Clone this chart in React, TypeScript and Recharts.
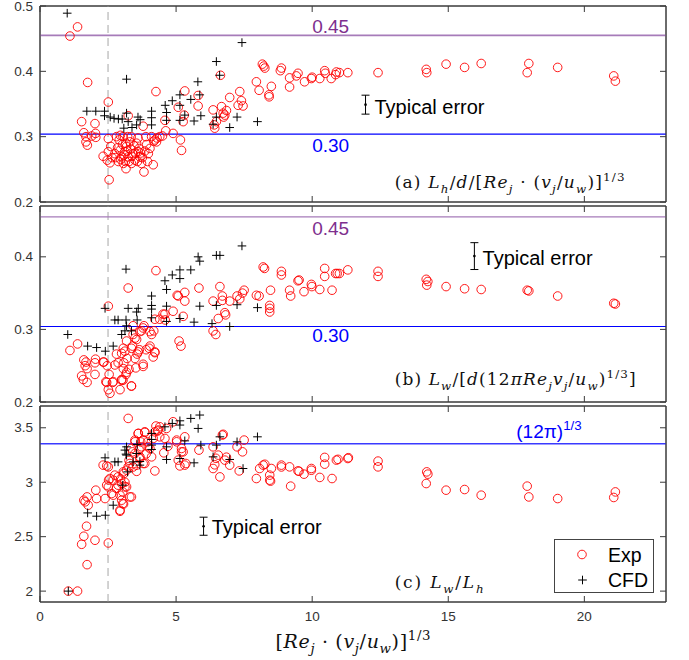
import React from 'react';
import { ScatterChart, Scatter, XAxis, YAxis, ReferenceLine, ErrorBar, Legend } from 'recharts';

// ---------- data ----------
const xTicks = [0, 5, 10, 15, 20];
const xDomain: [number, number] = [0, 23];
const aTicks = [0.2, 0.3, 0.4, 0.5];
const aDomain: [number, number] = [0.2, 0.5];
const bTicks = [0.2, 0.3, 0.4];
const bDomain: [number, number] = [0.2, 0.47];
const cTicks = [2, 2.5, 3, 3.5];
const cDomain: [number, number] = [1.9, 3.7];

const onsetX = 2.5;
const lineHigh = 0.455;
const lineLow = 0.304;
const lineC = 3.353;
const legendLabels = ['Exp', 'CFD'];

const expA: [number, number][] = [
  [1.10, 0.454], [1.38, 0.468], [1.75, 0.383], [1.53, 0.323], [1.61, 0.306], [1.69, 0.300], [1.69, 0.292], [1.74, 0.287],
  [1.90, 0.301], [2.02, 0.320], [2.04, 0.305], [2.05, 0.299], [2.51, 0.353], [2.51, 0.297], [2.32, 0.270], [2.51, 0.277],
  [2.47, 0.264], [2.57, 0.260], [2.54, 0.234], [2.75, 0.274], [2.81, 0.300], [2.91, 0.295], [2.94, 0.279], [3.00, 0.269],
  [3.06, 0.259], [3.12, 0.277], [3.16, 0.251], [3.18, 0.285], [3.24, 0.269], [3.24, 0.332], [3.30, 0.292], [3.36, 0.259],
  [3.42, 0.274], [3.49, 0.264], [3.55, 0.290], [3.61, 0.277], [3.67, 0.269], [3.73, 0.259], [3.79, 0.316], [3.82, 0.246],
  [3.89, 0.300], [3.98, 0.274], [4.04, 0.282], [4.10, 0.300], [4.16, 0.257], [4.22, 0.295], [4.26, 0.369], [4.28, 0.292],
  [4.40, 0.300], [4.59, 0.325], [4.62, 0.309], [4.89, 0.305], [5.08, 0.345], [5.16, 0.295], [5.20, 0.279], [5.30, 0.333],
  [5.32, 0.370], [5.26, 0.323], [2.85, 0.283], [2.97, 0.265], [3.03, 0.288], [3.09, 0.272], [3.14, 0.262], [3.20, 0.278],
  [3.27, 0.262], [3.33, 0.281], [3.38, 0.270], [3.45, 0.286], [3.50, 0.275], [3.58, 0.262], [3.64, 0.282], [3.70, 0.275],
  [3.76, 0.268], [3.85, 0.278], [3.92, 0.288], [2.88, 0.262], [2.78, 0.268], [3.05, 0.300], [3.35, 0.300], [3.60, 0.298],
  [3.22, 0.300], [2.65, 0.268], [2.60, 0.285], [3.95, 0.262], [4.18, 0.293], [4.30, 0.298], [4.50, 0.301], [3.15, 0.290],
  [2.95, 0.302], [5.81, 0.363], [5.81, 0.347], [6.36, 0.341], [6.42, 0.313], [6.48, 0.323], [6.67, 0.346], [6.73, 0.336],
  [6.79, 0.333], [6.85, 0.340], [6.63, 0.394], [6.97, 0.360], [7.34, 0.369], [7.40, 0.355], [7.46, 0.347], [7.28, 0.348],
  [6.40, 0.318], [6.75, 0.330], [7.95, 0.384], [8.05, 0.371], [8.17, 0.411], [8.22, 0.408], [8.26, 0.405], [8.41, 0.364],
  [8.42, 0.361], [8.50, 0.377], [8.83, 0.401], [8.87, 0.405], [9.17, 0.390], [9.17, 0.376], [9.42, 0.393], [9.48, 0.397],
  [9.72, 0.384], [9.97, 0.389], [10.00, 0.391], [10.28, 0.389], [10.46, 0.401], [10.48, 0.397], [10.70, 0.389], [10.86, 0.395],
  [10.89, 0.399], [11.00, 0.398], [11.31, 0.398], [12.42, 0.398], [14.19, 0.403], [14.21, 0.398], [14.92, 0.411], [15.60, 0.406],
  [16.21, 0.412], [17.90, 0.398], [17.96, 0.412], [19.02, 0.406], [21.08, 0.393], [21.14, 0.385],
];

const cfdA: [number, number][] = [
  [1.00, 0.489], [1.72, 0.339], [2.05, 0.339], [2.37, 0.339], [2.37, 0.332], [2.58, 0.330], [2.72, 0.328], [2.88, 0.327],
  [3.02, 0.327], [3.18, 0.336], [3.18, 0.388], [3.24, 0.323], [3.08, 0.313], [3.38, 0.314], [3.55, 0.318], [3.60, 0.330],
  [3.68, 0.326], [4.10, 0.339], [4.10, 0.329], [4.10, 0.318], [4.60, 0.348], [4.65, 0.337], [4.65, 0.325], [4.86, 0.355],
  [5.14, 0.364], [5.14, 0.348], [5.14, 0.325], [5.32, 0.333], [5.54, 0.357], [5.66, 0.324], [5.80, 0.384], [5.87, 0.364],
  [5.91, 0.332], [6.36, 0.319], [6.48, 0.330], [6.48, 0.415], [6.60, 0.394], [6.97, 0.314], [7.24, 0.330], [7.42, 0.444],
  [7.99, 0.323],
];

const expB: [number, number][] = [
  [1.10, 0.271], [1.38, 0.280], [1.61, 0.258], [1.69, 0.255], [1.73, 0.246], [1.66, 0.250], [1.53, 0.236], [1.59, 0.231],
  [1.73, 0.227], [2.02, 0.254], [2.04, 0.259], [2.02, 0.238], [2.35, 0.255], [2.51, 0.332], [2.47, 0.250], [2.42, 0.228],
  [2.54, 0.238], [2.51, 0.217], [2.57, 0.212], [2.69, 0.228], [2.81, 0.266], [2.87, 0.254], [2.94, 0.217], [3.00, 0.231],
  [3.05, 0.230], [3.08, 0.254], [3.12, 0.270], [3.16, 0.238], [3.20, 0.260], [3.24, 0.357], [3.27, 0.245], [3.36, 0.222],
  [3.40, 0.277], [3.42, 0.305], [3.49, 0.288], [3.52, 0.247], [3.57, 0.266], [3.65, 0.272], [3.73, 0.298], [3.79, 0.252],
  [3.82, 0.305], [3.90, 0.272], [4.04, 0.277], [4.10, 0.293], [4.16, 0.262], [4.18, 0.298], [4.22, 0.314], [4.26, 0.381],
  [4.22, 0.268], [4.40, 0.314], [4.52, 0.321], [4.60, 0.313], [4.89, 0.325], [5.08, 0.346], [5.11, 0.284], [5.18, 0.277],
  [5.26, 0.318], [5.32, 0.339], [5.32, 0.351], [5.84, 0.357], [6.36, 0.339], [6.36, 0.298], [6.46, 0.293], [6.55, 0.315],
  [6.61, 0.359], [6.70, 0.346], [6.70, 0.340], [6.79, 0.323], [6.82, 0.320], [6.97, 0.339], [7.24, 0.346], [7.34, 0.342],
  [7.44, 0.350], [7.50, 0.354], [7.95, 0.347], [8.05, 0.346], [8.20, 0.386], [8.25, 0.384], [8.47, 0.354], [8.44, 0.333],
  [8.44, 0.329], [8.44, 0.324], [8.87, 0.380], [8.87, 0.375], [9.17, 0.354], [9.21, 0.346], [9.48, 0.367], [9.52, 0.368],
  [9.70, 0.352], [9.97, 0.362], [9.99, 0.359], [10.28, 0.355], [10.46, 0.384], [10.46, 0.373], [10.73, 0.354], [10.86, 0.377],
  [10.92, 0.377], [11.00, 0.377], [11.31, 0.382], [12.42, 0.380], [12.42, 0.373], [14.19, 0.369], [14.21, 0.361], [14.25, 0.366],
  [14.92, 0.359], [15.60, 0.356], [16.21, 0.355], [17.90, 0.354], [17.96, 0.353], [19.02, 0.346], [21.08, 0.336], [21.14, 0.335],
  [3.00, 0.267], [3.06, 0.274], [3.18, 0.284], [3.36, 0.274], [3.49, 0.260], [3.61, 0.269], [3.79, 0.249], [4.01, 0.274],
  [4.22, 0.269], [3.06, 0.246], [3.18, 0.241], [3.00, 0.230], [3.36, 0.222], [3.67, 0.297], [3.79, 0.302], [3.42, 0.293],
  [3.55, 0.286], [4.04, 0.297], [4.59, 0.321], [5.04, 0.347], [2.75, 0.251], [2.67, 0.227], [2.45, 0.227], [2.32, 0.255],
];

const cfdB: [number, number][] = [
  [1.02, 0.293], [1.75, 0.277], [2.08, 0.275], [2.40, 0.270], [2.69, 0.277], [2.39, 0.329], [3.16, 0.383], [2.75, 0.313],
  [2.87, 0.313], [3.16, 0.313], [3.24, 0.329], [3.55, 0.324], [3.61, 0.329], [3.57, 0.313], [3.00, 0.293], [3.12, 0.298],
  [3.36, 0.298], [3.18, 0.305], [4.10, 0.346], [4.10, 0.333], [4.10, 0.328], [4.10, 0.316], [4.59, 0.367], [4.65, 0.355],
  [4.65, 0.332], [4.65, 0.311], [4.86, 0.375], [5.14, 0.382], [5.14, 0.370], [5.14, 0.315], [5.54, 0.382], [5.81, 0.400],
  [5.87, 0.394], [5.66, 0.310], [5.87, 0.332], [6.48, 0.402], [6.61, 0.402], [6.32, 0.308], [6.48, 0.333], [6.97, 0.304],
  [7.24, 0.334], [7.42, 0.415], [7.99, 0.330],
];

const expC: [number, number][] = [
  [1.04, 2.0], [1.38, 2.0], [3.24, 3.586], [1.53, 2.430], [1.61, 2.504], [1.71, 2.596], [1.73, 2.243], [1.61, 2.835],
  [1.66, 2.820], [1.73, 2.865], [1.77, 2.789], [2.02, 2.467], [2.05, 2.927], [2.08, 2.850], [2.51, 2.442], [2.32, 3.157],
  [2.45, 2.973], [2.57, 3.034], [2.52, 3.020], [2.51, 3.141], [2.69, 2.881], [2.75, 3.065], [2.87, 2.973], [2.94, 2.743],
  [2.96, 3.030], [3.00, 2.835], [3.04, 2.911], [3.07, 2.800], [3.08, 3.080], [3.12, 3.000], [3.18, 2.957], [3.24, 3.141],
  [3.27, 3.200], [3.36, 2.865], [3.40, 3.279], [3.42, 3.140], [3.49, 3.371], [3.55, 3.100], [3.61, 3.448], [3.64, 3.300],
  [3.67, 3.233], [3.70, 3.370], [3.79, 3.172], [3.85, 3.463], [3.90, 3.260], [3.95, 3.370], [4.04, 3.310], [4.10, 3.233],
  [4.16, 3.402], [4.22, 3.463], [4.26, 3.516], [4.22, 3.104], [4.32, 3.470], [4.40, 3.417], [4.55, 3.270], [4.59, 3.402],
  [4.65, 3.494], [4.70, 3.330], [4.89, 3.555], [5.02, 3.371], [5.08, 3.203], [5.14, 3.150], [5.20, 3.310], [5.26, 3.279],
  [5.32, 3.417], [5.36, 3.172], [5.84, 3.295], [6.36, 3.325], [6.36, 3.126], [6.42, 3.160], [6.46, 3.220], [6.55, 3.249],
  [6.61, 3.049], [6.70, 3.433], [6.73, 3.440], [6.79, 3.203], [6.85, 3.230], [6.97, 3.157], [7.24, 3.325], [7.32, 3.104],
  [7.44, 3.279], [7.50, 3.387], [7.95, 3.034], [8.07, 3.126], [8.20, 3.157], [8.26, 3.165], [8.44, 3.065], [8.44, 3.019],
  [8.47, 3.010], [8.50, 3.126], [8.87, 3.157], [8.87, 3.140], [9.21, 2.964], [9.17, 3.141], [9.48, 3.104], [9.52, 3.100],
  [9.70, 3.074], [9.97, 3.126], [9.97, 3.110], [10.28, 3.044], [10.46, 3.228], [10.46, 3.166], [10.73, 3.034], [10.89, 3.203],
  [10.95, 3.210], [11.31, 3.218], [11.33, 3.225], [12.42, 3.194], [12.42, 3.141], [14.19, 2.988], [14.21, 3.095], [14.25, 3.074],
  [14.92, 2.927], [15.60, 2.933], [16.21, 2.881], [17.90, 2.964], [17.96, 2.865], [19.02, 2.850], [21.08, 2.860], [21.14, 2.911],
  [3.61, 3.448], [3.85, 3.457], [4.34, 3.479], [4.40, 3.509], [3.49, 3.387], [3.79, 3.387], [3.98, 3.325], [3.73, 3.325],
  [3.36, 3.310], [3.49, 3.264], [3.67, 3.218], [3.85, 3.172], [3.55, 3.157], [3.30, 3.172], [3.18, 3.111], [3.06, 3.095],
  [2.87, 3.049], [2.69, 3.019], [2.51, 2.957], [2.63, 2.896], [2.81, 2.943], [3.00, 2.988], [3.12, 2.957], [2.94, 2.881],
  [3.04, 2.804], [2.94, 2.733], [3.30, 2.865], [2.39, 2.850], [2.45, 3.150], [5.32, 3.157], [5.20, 3.279], [5.02, 3.387],
];

const cfdC: [number, number][] = [
  [1.04, 2.0], [1.75, 2.718], [2.08, 2.688], [2.40, 2.697], [2.69, 2.789], [2.39, 3.224], [2.75, 3.187], [2.87, 3.187],
  [3.12, 3.295], [3.16, 3.258], [3.18, 3.325], [3.22, 3.095], [3.04, 2.973], [3.42, 3.187], [3.55, 3.264], [3.57, 3.347],
  [3.67, 3.157], [4.10, 3.448], [4.10, 3.393], [4.10, 3.341], [4.10, 3.301], [4.59, 3.509], [4.65, 3.325], [4.65, 3.209],
  [4.86, 3.540], [5.14, 3.564], [5.14, 3.525], [5.14, 3.218], [5.32, 3.380], [5.54, 3.586], [5.66, 3.178], [5.81, 3.494],
  [5.87, 3.617], [5.91, 3.341], [6.36, 3.233], [6.48, 3.341], [6.61, 3.417], [6.97, 3.209], [7.24, 3.371], [7.46, 3.126],
  [7.99, 3.417], [3.18, 3.249], [3.67, 3.190],
];

// typical error bars: x, y, half-height
const errA = [{ x: 11.96, y: 0.349, err: 0.0145 }];
const errB = [{ x: 15.96, y: 0.401, err: 0.0185 }];
const errC = [{ x: 6.01, y: 2.596, err: 0.083 }];

type Seg = { t: string; i?: boolean; s?: 'sub' | 'sup' };
const labelA: Seg[] = [
  { t: '(a) ' }, { t: 'L', i: true }, { t: 'h', i: true, s: 'sub' }, { t: '/' }, { t: 'd', i: true }, { t: '/[' },
  { t: 'Re', i: true }, { t: 'j', i: true, s: 'sub' }, { t: ' · (' }, { t: 'v', i: true }, { t: 'j', i: true, s: 'sub' },
  { t: '/' }, { t: 'u', i: true }, { t: 'w', i: true, s: 'sub' }, { t: ')]' }, { t: '1/3', s: 'sup' },
];
const labelB: Seg[] = [
  { t: '(b) ' }, { t: 'L', i: true }, { t: 'w', i: true, s: 'sub' }, { t: '/[' }, { t: 'd', i: true }, { t: '(12' },
  { t: 'πRe', i: true }, { t: 'j', i: true, s: 'sub' }, { t: 'v', i: true }, { t: 'j', i: true, s: 'sub' }, { t: '/' },
  { t: 'u', i: true }, { t: 'w', i: true, s: 'sub' }, { t: ')' }, { t: '1/3', s: 'sup' }, { t: ']' },
];
const labelC: Seg[] = [
  { t: '(c) ' }, { t: 'L', i: true }, { t: 'w', i: true, s: 'sub' }, { t: '/' }, { t: 'L', i: true }, { t: 'h', i: true, s: 'sub' },
];
const xLabelSegs: Seg[] = [
  { t: '[' }, { t: 'Re', i: true }, { t: 'j', i: true, s: 'sub' }, { t: ' · (' }, { t: 'v', i: true }, { t: 'j', i: true, s: 'sub' },
  { t: '/' }, { t: 'u', i: true }, { t: 'w', i: true, s: 'sub' }, { t: ')]' }, { t: '1/3', s: 'sup' },
];
const cubeRootSegs: Seg[] = [{ t: '(12π)' }, { t: '1/3', s: 'sup' }];

// ---------- styles ----------
const SANS = '"Liberation Sans", Arial, Helvetica, sans-serif';
const SERIF = '"DejaVu Serif", "Liberation Serif", serif';
const FRAME = '#3a3a3a';
const RED = '#ff0000';
const BLUE = '#0000ff';
const PURPLE_T = '#7e2f8e';
const PURPLE_L = '#a67bb9';

const toPts = (arr: [number, number][]) => arr.map(([x, y]) => ({ x, y }));

const MathText = ({ x, y, segs, size, anchor = 'start', fill = '#111', family = SERIF, len }: any) => {
  let cur = 0;
  const spans = segs.map((sg: Seg, k: number) => {
    const target = sg.s === 'sub' ? size * 0.28 : sg.s === 'sup' ? -size * 0.42 : 0;
    const dy = target - cur;
    cur = target;
    return (
      <tspan key={k} dy={dy} fontStyle={sg.i ? 'italic' : 'normal'} fontSize={sg.s ? size * 0.7 : size}>
        {sg.t}
      </tspan>
    );
  });
  const extra = len ? { textLength: len, lengthAdjust: 'spacing' } : {};
  return (
    <text x={x} y={y} textAnchor={anchor} fill={fill} fontFamily={family} fontSize={size} {...extra}>
      {spans}
    </text>
  );
};

const RedCircle = (p: any) => <circle cx={p.cx} cy={p.cy} r={4.3} fill="none" stroke={RED} strokeWidth={0.9} />;
const BlackPlus = (p: any) => (
  <path d={`M${p.cx - 4.3},${p.cy}h8.6M${p.cx},${p.cy - 4.3}v8.6`} stroke="#000" strokeWidth={1} fill="none" />
);
const SmallDot = (p: any) => <circle cx={p.cx} cy={p.cy} r={1.3} fill="#000" />;

const textShape = (txt: string, color: string, size: number, anchor = 'middle') => (p: any) => (
  <text x={p.cx} y={p.cy} fill={color} fontSize={size} fontFamily={SANS} textAnchor={anchor} dominantBaseline="central">
    {txt}
  </text>
);
const mathShape = (segs: Seg[], size: number, len?: number, fill = '#111', family = SERIF) => (p: any) => (
  <MathText x={p.cx} y={p.cy} segs={segs} size={size} fill={fill} family={family} len={len} />
);

const mkXTick = (dir: number, label: boolean) => (p: any) => (
  <g>
    <line x1={p.x} x2={p.x} y1={p.y} y2={p.y + dir * 6} stroke={FRAME} strokeWidth={1} />
    {label && (
      <text x={p.x} y={p.y + 19} textAnchor="middle" fontSize={13.5} fill="#333" fontFamily={SANS}>
        {p.payload.value}
      </text>
    )}
  </g>
);
const mkYTick = (dir: number, label: boolean) => (p: any) => (
  <g>
    <line x1={p.x} x2={p.x + dir * 6} y1={p.y} y2={p.y} stroke={FRAME} strokeWidth={1} />
    {label && (
      <text x={p.x - 7} y={p.y} textAnchor="end" dominantBaseline="central" fontSize={13.5} fill="#333" fontFamily={SANS}>
        {p.payload.value}
      </text>
    )}
  </g>
);

const frameAxes = (yDomain: [number, number], yTicks: number[], bottomLabels: boolean, xLabel?: any) => [
  <XAxis key="xb" xAxisId={0} type="number" dataKey="x" domain={xDomain} ticks={xTicks} interval={0} allowDataOverflow
    height={1} tickSize={0} tickMargin={0} tickLine={false} axisLine={{ stroke: FRAME, strokeWidth: 1 }}
    tick={mkXTick(-1, bottomLabels)} label={xLabel} />,
  <XAxis key="xt" xAxisId="top" orientation="top" type="number" dataKey="x" domain={xDomain} ticks={xTicks} interval={0}
    allowDataOverflow height={1} tickSize={0} tickMargin={0} tickLine={false} axisLine={{ stroke: FRAME, strokeWidth: 1 }}
    tick={mkXTick(1, false)} />,
  <YAxis key="yl" yAxisId={0} type="number" dataKey="y" domain={yDomain} ticks={yTicks} interval={0} allowDataOverflow
    width={40} tickSize={0} tickMargin={0} tickLine={false} axisLine={{ stroke: FRAME, strokeWidth: 1 }}
    tick={mkYTick(1, true)} />,
  <YAxis key="yr" yAxisId="right" orientation="right" type="number" dataKey="y" domain={yDomain} ticks={yTicks} interval={0}
    allowDataOverflow width={1} tickSize={0} tickMargin={0} tickLine={false} axisLine={{ stroke: FRAME, strokeWidth: 1 }}
    tick={mkYTick(-1, false)} />,
  <ReferenceLine key="f1" x={xDomain[0]} stroke={FRAME} strokeWidth={1} ifOverflow="visible" />,
  <ReferenceLine key="f2" x={xDomain[1]} stroke={FRAME} strokeWidth={1} ifOverflow="visible" />,
  <ReferenceLine key="f3" y={yDomain[0]} stroke={FRAME} strokeWidth={1} ifOverflow="visible" />,
  <ReferenceLine key="f4" y={yDomain[1]} stroke={FRAME} strokeWidth={1} ifOverflow="visible" />,
];

const onsetLine = (
  <ReferenceLine key="onset" x={onsetX} stroke="#c4c4c4" strokeWidth={1.5} strokeDasharray="8 5" />
);

const LegendBox = () => (
  <svg width={100} height={54} style={{ display: 'block' }}>
    <rect x={0.5} y={0.5} width={99} height={53} fill="#fff" stroke="#444" strokeWidth={1} />
    <circle cx={28} cy={15.5} r={4.3} fill="none" stroke={RED} strokeWidth={0.9} />
    <path d="M24.2,41h8.6M28.5,36.7v8.6" stroke="#000" strokeWidth={1} />
    <text x={54} y={22.5} fontSize={19.5} fontFamily={SANS} fill="#000">{legendLabels[0]}</text>
    <text x={54} y={47.5} fontSize={19.5} fontFamily={SANS} fill="#000">{legendLabels[1]}</text>
  </svg>
);

const XLabel = (props: any) => {
  const vb = props.viewBox || { x: 40, y: 602, width: 626 };
  return <MathText x={vb.x + vb.width / 2} y={vb.y + 46} segs={xLabelSegs} size={19} anchor="middle" len={155} />;
};

export default function App() {
  return (
    <div style={{ position: 'absolute', left: 0, top: 0, width: 689, height: 660, background: '#fff' }}>
      {/* Panel (a) */}
      <div style={{ position: 'absolute', left: 0, top: 0 }}>
        <ScatterChart width={689} height={210} margin={{ top: 5, right: 22, bottom: 7, left: 0 }}>
          {frameAxes(aDomain, aTicks, false)}
          {onsetLine}
          <ReferenceLine y={lineHigh} stroke={PURPLE_L} strokeWidth={1.6} />
          <ReferenceLine y={lineLow} stroke={BLUE} strokeWidth={1.2} />
          <Scatter data={toPts(expA)} shape={RedCircle} isAnimationActive={false} />
          <Scatter data={toPts(cfdA)} shape={BlackPlus} isAnimationActive={false} />
          <Scatter data={errA} shape={SmallDot} isAnimationActive={false}>
            <ErrorBar dataKey="err" direction="y" width={4} stroke="#000" strokeWidth={1} />
          </Scatter>
          <Scatter data={[{ x: 10.68, y: 0.468 }]} shape={textShape('0.45', PURPLE_T, 19)} isAnimationActive={false} />
          <Scatter data={[{ x: 10.68, y: 0.286 }]} shape={textShape('0.30', BLUE, 19)} isAnimationActive={false} />
          <Scatter data={[{ x: 12.29, y: 0.346 }]} shape={textShape('Typical error', '#000', 20, 'start')} isAnimationActive={false} />
          <Scatter data={[{ x: 13.03, y: 0.2213 }]} shape={mathShape(labelA, 17, 230)} isAnimationActive={false} />
        </ScatterChart>
      </div>
      {/* Panel (b) */}
      <div style={{ position: 'absolute', left: 0, top: 204 }}>
        <ScatterChart width={689} height={206} margin={{ top: 1, right: 22, bottom: 7, left: 0 }}>
          {frameAxes(bDomain, bTicks, false)}
          {onsetLine}
          <ReferenceLine y={lineHigh} stroke={PURPLE_L} strokeWidth={1.2} />
          <ReferenceLine y={lineLow} stroke={BLUE} strokeWidth={1.2} />
          <Scatter data={toPts(expB)} shape={RedCircle} isAnimationActive={false} />
          <Scatter data={toPts(cfdB)} shape={BlackPlus} isAnimationActive={false} />
          <Scatter data={errB} shape={SmallDot} isAnimationActive={false}>
            <ErrorBar dataKey="err" direction="y" width={4} stroke="#000" strokeWidth={1} />
          </Scatter>
          <Scatter data={[{ x: 10.68, y: 0.439 }]} shape={textShape('0.45', PURPLE_T, 19)} isAnimationActive={false} />
          <Scatter data={[{ x: 10.68, y: 0.291 }]} shape={textShape('0.30', BLUE, 19)} isAnimationActive={false} />
          <Scatter data={[{ x: 16.26, y: 0.399 }]} shape={textShape('Typical error', '#000', 20, 'start')} isAnimationActive={false} />
          <Scatter data={[{ x: 13.03, y: 0.2228 }]} shape={mathShape(labelB, 17, 241)} isAnimationActive={false} />
        </ScatterChart>
      </div>
      {/* Panel (c) */}
      <div style={{ position: 'absolute', left: 0, top: 404 }}>
        <ScatterChart width={689} height={256} margin={{ top: 1, right: 22, bottom: 57, left: 0 }}>
          {frameAxes(cDomain, cTicks, true, XLabel)}
          {onsetLine}
          <ReferenceLine y={lineC} stroke="#3a3aff" strokeWidth={1.4} />
          <Scatter data={toPts(expC)} shape={RedCircle} isAnimationActive={false} />
          <Scatter data={toPts(cfdC)} shape={BlackPlus} isAnimationActive={false} />
          <Scatter data={errC} shape={SmallDot} isAnimationActive={false}>
            <ErrorBar dataKey="err" direction="y" width={4} stroke="#000" strokeWidth={1} />
          </Scatter>
          <Scatter data={[{ x: 17.5, y: 3.405 }]} shape={mathShape(cubeRootSegs, 19, undefined, BLUE, SANS)} isAnimationActive={false} />
          <Scatter data={[{ x: 6.31, y: 2.587 }]} shape={textShape('Typical error', '#000', 20, 'start')} isAnimationActive={false} />
          <Scatter data={[{ x: 13.03, y: 2.025 }]} shape={mathShape(labelC, 17, 89)} isAnimationActive={false} />
          <Legend layout="vertical" align="center" verticalAlign="middle" content={() => <LegendBox />}
            wrapperStyle={{ left: 554, top: 135, width: 100, height: 54 }} />
        </ScatterChart>
      </div>
    </div>
  );
}
